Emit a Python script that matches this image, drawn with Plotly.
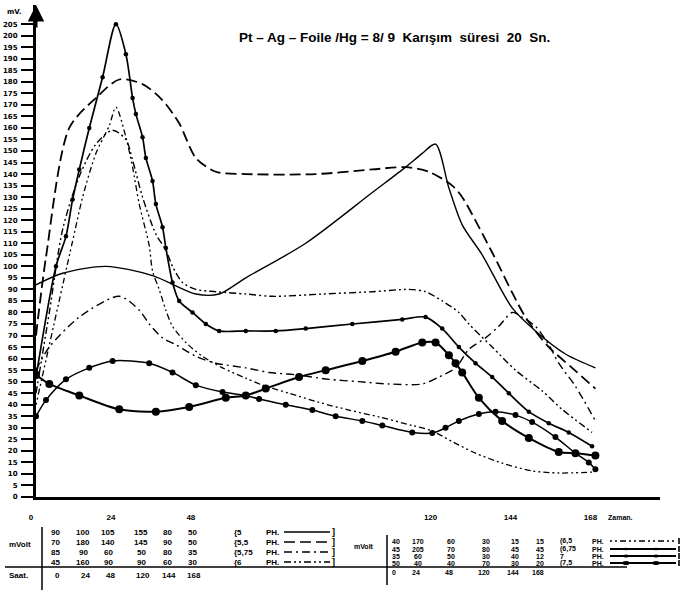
import plotly.graph_objects as go

# ---------------- data (time h, potential mV) ----------------
t_ph5 = [0, 8, 21, 35, 48, 55, 63, 81, 101, 111, 116, 120, 124, 128, 134, 143, 150, 159, 168]
v_ph5 = [92, 97, 100, 96, 88, 88, 95, 110, 132, 143, 149, 153, 134, 118, 105, 82, 72, 62, 56]

t_ph55 = [0, 3, 10, 18, 25, 32, 38, 43, 48, 54, 63, 84, 101, 111, 118, 125, 128, 137, 147, 154, 161, 168]
v_ph55 = [70, 104, 160, 173, 181, 179, 172, 162, 147, 141, 140, 140, 142, 143, 141, 135, 130, 106, 78, 65, 56, 47]

t_ph575 = [0, 4, 13, 25, 31, 34, 38, 42, 48, 54, 63, 70, 78, 88, 97, 106, 116, 121, 126, 130, 135, 139, 143, 146, 150, 154, 157, 162, 168]
v_ph575 = [55, 65, 78, 87, 81, 75, 69, 66, 61, 58, 56, 54, 53, 51, 50, 49, 49, 52, 56, 64, 69, 74, 80, 78, 74, 66, 58, 48, 33]

t_ph6 = [0, 4, 8, 13, 18, 23, 27, 29, 32, 36, 39, 41, 44, 48, 54, 63, 71, 86, 101, 112, 117, 122, 127, 130, 137, 144, 152, 158, 167]
v_ph6 = [45, 80, 116, 139, 153, 159, 155, 146, 130, 114, 107, 100, 93, 90, 89, 88, 87, 88, 89, 90, 89, 85, 80, 75, 65, 55, 46, 38, 28]

t_ph65 = [0, 11, 14, 18, 22, 24, 27, 29, 31, 34, 35, 37, 39, 41, 45, 50, 56, 63, 68, 76, 85, 94, 103, 113, 119, 125, 132, 140, 149, 157, 167]
v_ph65 = [40, 111, 130, 149, 161, 169, 156, 143, 127, 109, 98, 90, 81, 74, 67, 61, 56, 51.5, 48.5, 45, 41, 37.7, 34.7, 31, 28.6, 24, 19, 14.7, 11.3, 10.4, 10.8]

t_ph675 = [0, 6, 9, 11, 13, 16, 20, 24, 27, 29, 30, 32, 33, 35, 36, 38, 39, 41, 43, 47, 51, 55, 63, 72, 81, 95, 110, 117, 122, 127, 132, 137, 142, 148, 154, 160, 167]
v_ph675 = [52, 100, 113, 129, 142, 160, 182, 205, 192, 173, 166, 156, 147, 137, 127, 117, 108, 93, 85, 80, 75, 72, 72, 72, 73, 75, 77, 78, 73, 65, 58, 52, 45, 37, 32, 28, 22]

t_ph7 = [0, 3, 9, 16, 23, 34, 41, 48, 56, 63, 67, 75, 83, 90, 98, 104, 113, 119, 123, 127, 133, 138, 144, 149, 156, 162, 166, 168]
v_ph7 = [35, 42, 51, 56, 59, 58, 54, 48.5, 45.5, 44, 42.5, 40, 37.7, 35, 33, 31, 28, 27.7, 30, 33, 36, 37, 35.5, 32.5, 26, 19, 15, 12]

t_ph75 = [0, 4, 13, 25, 36, 46, 57, 63, 69, 79, 87, 98, 108, 116, 120, 124, 126, 128, 133, 140, 148, 157, 162, 168]
v_ph75 = [53, 49, 44, 38, 37, 39, 43, 44, 47, 52, 55, 59, 63, 67, 67, 61.5, 58, 54, 43, 33, 25.6, 19.5, 19, 18]

# table printed under the chart
tbl_times = [0, 24, 48, 120, 144, 168]
tbl_ph5 = [90, 100, 105, 155, 80, 50]
tbl_ph55 = [70, 180, 140, 145, 90, 50]
tbl_ph575 = [85, 90, 60, 50, 80, 35]
tbl_ph6 = [45, 160, 90, 90, 60, 30]
tbl_ph65 = [40, 170, 60, 30, 15, 15]
tbl_ph675 = [45, 205, 70, 80, 45, 45]
tbl_ph7 = [35, 60, 50, 30, 40, 12]
tbl_ph75 = [50, 40, 40, 70, 30, 20]
left_labels = ["{5", "{5,5", "{5,75", "{6"]
right_labels = ["(6,5", "(6,75", "7", "(7,5"]

y_ticks = list(range(0, 210, 5))
title_text = "Pt – Ag – Foile /Hg = 8/ 9  Karışım  süresi  20  Sn."

# ---------------- geometry helpers (pixel -> paper) ----------------
L, R, T, B = 36, 26, 5, 102
W, H = 686, 599
PW, PH = W - L - R, H - T - B


def px(x):
    return (x - L) / PW


def py(y):
    return (H - B - y) / PH


FONT = "DejaVu Sans"
TF = "Liberation Sans"

styles = {
    "ph5": dict(dash="solid", width=1.4),
    "ph55": dict(dash="11px,5px", width=1.8),
    "ph575": dict(dash="8px,4px,2px,4px", width=1.4),
    "ph6": dict(dash="7px,3px,2px,3px,2px,3px", width=1.4),
    "ph65": dict(dash="2px,3px,2px,3px,6px,3px", width=1.3),
    "ph675": dict(dash="solid", width=1.7),
    "ph7": dict(dash="solid", width=1.5),
    "ph75": dict(dash="solid", width=2.0),
}

fig = go.Figure()

series = [
    ("ph5", t_ph5, v_ph5, None),
    ("ph55", t_ph55, v_ph55, None),
    ("ph575", t_ph575, v_ph575, None),
    ("ph6", t_ph6, v_ph6, None),
    ("ph65", t_ph65, v_ph65, None),
    ("ph675", t_ph675, v_ph675, 4.5),
    ("ph7", t_ph7, v_ph7, 6),
    ("ph75", t_ph75, v_ph75, 8),
]
for key, t, v, msize in series:
    st = styles[key]
    fig.add_trace(go.Scatter(
        x=t, y=v,
        mode="lines+markers" if msize else "lines",
        line=dict(color="black", width=st["width"], dash=st["dash"], shape="spline", smoothing=0.8),
        marker=dict(color="black", size=msize or 1),
        hoverinfo="skip",
    ))

annotations = []
shapes = []


def txt(x, y, s, size, anchor="center", family=TF):
    annotations.append(dict(xref="paper", yref="paper", x=px(x), y=py(y), xanchor=anchor, yanchor="middle",
                            text=s, showarrow=False,
                            font=dict(family=family, size=size, color="#000000", weight="bold")))


# title
txt(237, 37, title_text, 13.5, "left")
# mV. label
txt(14, 12, "mV.", 7, "center", FONT)
# arrow on y axis
annotations.append(dict(xref="x", yref="y", x=0, y=213.3, ax=0, ay=24, showarrow=True, text="",
                        arrowhead=2, arrowsize=1.1, arrowwidth=3, arrowcolor="black"))
# Zaman
txt(606, 517, "Zaman.", 7, "left")

# ---------- left table ----------
lcols = [55, 83, 108, 141, 167, 192]
lrows = [532, 542, 552, 562]
lvals = [tbl_ph5, tbl_ph55, tbl_ph575, tbl_ph6]
for r, vals in enumerate(lvals):
    for c, val in enumerate(vals):
        txt(lcols[c], lrows[r], str(val), 8)
    txt(232, lrows[r], left_labels[r], 8, "left")
    txt(264, lrows[r], "PH.", 8, "left")
    txt(333, lrows[r], "]", 9)
lkeys = ["ph5", "ph55", "ph575", "ph6"]
for r, key in enumerate(lkeys):
    shapes.append(dict(type="line", xref="paper", yref="paper", x0=px(284), x1=px(330), y0=py(lrows[r]), y1=py(lrows[r]),
                       line=dict(color="black", width=1.4, dash=styles[key]["dash"])))
for c, tv in enumerate(tbl_times):
    txt(lcols[c] + 2, 575, str(tv), 8)
txt(20, 544, "mVolt", 8)
txt(18, 575, "Saat.", 8)
shapes.append(dict(type="line", xref="paper", yref="paper", x0=px(42), x1=px(42), y0=py(527), y1=py(590),
                   line=dict(color="black", width=1.5)))

# ---------- right table ----------
rcols = [396, 418, 451, 486, 515, 540]
rrows = [541, 549, 556, 563]
rvals = [tbl_ph65, tbl_ph675, tbl_ph7, tbl_ph75]
for r, vals in enumerate(rvals):
    for c, val in enumerate(vals):
        txt(rcols[c], rrows[r], str(val), 7)
    txt(558, rrows[r], right_labels[r], 7, "left")
    txt(590, rrows[r], "PH.", 7, "left")
rkeys = ["ph65", "ph675", "ph7", "ph75"]
rms = [0, 3, 4, 5]
for r, key in enumerate(rkeys):
    yy = rrows[r]
    shapes.append(dict(type="line", xref="paper", yref="paper", x0=px(610), x1=px(676), y0=py(yy), y1=py(yy),
                       line=dict(color="black", width=1.4 if r == 0 else 1.8, dash=styles[key]["dash"])))
    if rms[r]:
        for cx in (626, 656):
            m = rms[r] / 2
            shapes.append(dict(type="circle", xref="paper", yref="paper",
                               x0=px(cx - m * 1.4), x1=px(cx + m * 1.4), y0=py(yy + m * 0.8), y1=py(yy - m * 0.8),
                               fillcolor="black", line=dict(color="black", width=0)))
    shapes.append(dict(type="line", xref="paper", yref="paper", x0=px(679), x1=px(679), y0=py(yy - 3), y1=py(yy + 3),
                       line=dict(color="black", width=1.6)))
for c, tv in enumerate(tbl_times):
    txt(rcols[c] - 2, 572, str(tv), 7)
txt(364, 546, "mVolt", 7)
shapes.append(dict(type="line", xref="paper", yref="paper", x0=px(387), x1=px(387), y0=py(535), y1=py(585),
                   line=dict(color="black", width=1.5)))

# long rule under the table rows
shapes.append(dict(type="line", xref="paper", yref="paper", x0=px(5), x1=px(627), y0=py(567), y1=py(567),
                   line=dict(color="black", width=1.6)))

fig.update_layout(
    width=W, height=H,
    margin=dict(l=L, r=R, t=T, b=B, autoexpand=False),
    plot_bgcolor="white", paper_bgcolor="white",
    showlegend=False,
    annotations=annotations,
    shapes=shapes,
    xaxis=dict(range=[0, 187.4], showline=True, linewidth=3, linecolor="black", showgrid=False, zeroline=False,
               tickvals=tbl_times, ticktext=[str(t) for t in tbl_times], ticks="", ticklabelstandoff=10,
               ticklabelshift=-5, tickfont=dict(family=TF, size=8, color="black", weight="bold")),
    yaxis=dict(range=[0, 213.3], showline=True, linewidth=3, linecolor="black", showgrid=False, zeroline=False,
               tickvals=y_ticks, ticktext=[str(v) for v in y_ticks], ticks="outside", ticklen=12, tickwidth=1.5,
               tickcolor="black", ticklabelstandoff=2,
               tickfont=dict(family=FONT, size=7, color="black", weight="bold")),
)

fig.write_html("out.html", config={"displayModeBar": False},
               post_script="document.body.style.margin='0';document.body.style.padding='0';")
